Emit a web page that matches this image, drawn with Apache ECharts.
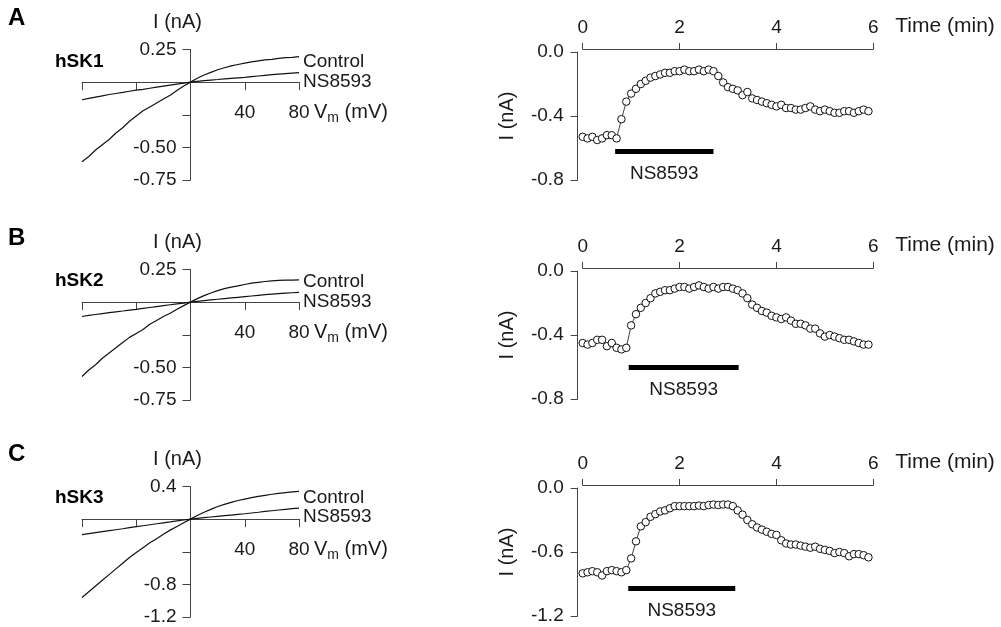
<!DOCTYPE html>
<html><head><meta charset="utf-8">
<script src="https://cdn.jsdelivr.net/npm/echarts@6/dist/echarts.min.js"></script>
<style>html,body{margin:0;padding:0;background:#fff}#c{width:1001px;height:627px}</style>
</head><body><div id="c"></div>
<script>
// ---------- DATA ----------
const panelLetters = ['A', 'B', 'C'];
const channelNames = ['hSK1', 'hSK2', 'hSK3'];
const voltage = [-80,-75,-70,-65,-60,-55,-50,-45,-40,-35,-30,-25,-20,-15,-10,-5,0,5,10,15,20,25,30,35,40,45,50,55,60,65,70,75,80];
const ivControlA = [-0.61,-0.57,-0.52,-0.48,-0.44,-0.39,-0.35,-0.30,-0.26,-0.22,-0.19,-0.16,-0.13,-0.10,-0.065,-0.03,0,0.03,0.055,0.075,0.095,0.11,0.125,0.135,0.145,0.155,0.163,0.17,0.175,0.182,0.187,0.19,0.195];
const ivNS8593A  = [-0.135,-0.125,-0.115,-0.105,-0.095,-0.087,-0.079,-0.07,-0.062,-0.055,-0.047,-0.039,-0.031,-0.023,-0.015,-0.008,0,0.006,0.011,0.016,0.02,0.025,0.029,0.033,0.037,0.042,0.047,0.052,0.057,0.061,0.065,0.069,0.073];
const ivControlB = [-0.57,-0.52,-0.48,-0.43,-0.39,-0.35,-0.31,-0.27,-0.24,-0.21,-0.17,-0.14,-0.11,-0.085,-0.055,-0.027,0,0.027,0.05,0.07,0.088,0.103,0.115,0.125,0.135,0.145,0.152,0.158,0.163,0.166,0.168,0.169,0.17];
const ivNS8593B  = [-0.11,-0.102,-0.095,-0.088,-0.081,-0.074,-0.068,-0.061,-0.055,-0.048,-0.041,-0.034,-0.027,-0.02,-0.013,-0.007,0,0.006,0.012,0.017,0.022,0.027,0.032,0.037,0.042,0.047,0.052,0.057,0.061,0.065,0.069,0.072,0.075];
const ivControlC = [-0.96,-0.89,-0.82,-0.75,-0.68,-0.61,-0.54,-0.47,-0.41,-0.35,-0.29,-0.24,-0.185,-0.135,-0.09,-0.045,0,0.045,0.085,0.12,0.155,0.18,0.205,0.228,0.246,0.263,0.278,0.292,0.305,0.315,0.325,0.333,0.34];
const ivNS8593C  = [-0.19,-0.178,-0.166,-0.154,-0.142,-0.13,-0.118,-0.105,-0.093,-0.081,-0.069,-0.057,-0.045,-0.034,-0.022,-0.011,0,0.009,0.018,0.026,0.034,0.042,0.05,0.058,0.066,0.075,0.084,0.094,0.103,0.112,0.12,0.128,0.135];

const timeMin = [0,0.1,0.2,0.3,0.4,0.5,0.6,0.7,0.8,0.9,1.0,1.1,1.2,1.3,1.4,1.5,1.6,1.7,1.8,1.9,2.0,2.1,2.2,2.3,2.4,2.5,2.6,2.7,2.8,2.9,3.0,3.1,3.2,3.3,3.4,3.5,3.6,3.7,3.8,3.9,4.0,4.1,4.2,4.3,4.4,4.5,4.6,4.7,4.8,4.9,5.0,5.1,5.2,5.3,5.4,5.5,5.6,5.7,5.8,5.9];
const currentA = [-0.53,-0.54,-0.53,-0.55,-0.54,-0.52,-0.52,-0.54,-0.42,-0.31,-0.26,-0.23,-0.20,-0.18,-0.16,-0.15,-0.14,-0.13,-0.13,-0.12,-0.12,-0.11,-0.12,-0.12,-0.11,-0.12,-0.11,-0.12,-0.15,-0.19,-0.22,-0.23,-0.24,-0.27,-0.25,-0.29,-0.30,-0.31,-0.32,-0.33,-0.34,-0.33,-0.35,-0.35,-0.36,-0.36,-0.35,-0.34,-0.36,-0.37,-0.36,-0.37,-0.38,-0.38,-0.37,-0.37,-0.38,-0.37,-0.36,-0.37];
const currentB = [-0.45,-0.46,-0.45,-0.43,-0.43,-0.47,-0.45,-0.48,-0.49,-0.48,-0.34,-0.27,-0.23,-0.20,-0.17,-0.14,-0.13,-0.12,-0.12,-0.11,-0.10,-0.10,-0.11,-0.10,-0.09,-0.10,-0.11,-0.10,-0.11,-0.10,-0.10,-0.11,-0.12,-0.14,-0.17,-0.21,-0.23,-0.25,-0.26,-0.28,-0.29,-0.30,-0.29,-0.31,-0.33,-0.33,-0.34,-0.36,-0.36,-0.39,-0.41,-0.40,-0.41,-0.42,-0.43,-0.43,-0.44,-0.45,-0.46,-0.46];
const currentC = [-0.80,-0.79,-0.78,-0.79,-0.82,-0.78,-0.77,-0.78,-0.79,-0.77,-0.66,-0.50,-0.36,-0.32,-0.27,-0.245,-0.22,-0.21,-0.19,-0.17,-0.17,-0.17,-0.17,-0.17,-0.165,-0.17,-0.16,-0.155,-0.16,-0.155,-0.155,-0.17,-0.21,-0.25,-0.30,-0.34,-0.37,-0.39,-0.41,-0.43,-0.44,-0.49,-0.52,-0.53,-0.53,-0.54,-0.55,-0.56,-0.55,-0.57,-0.58,-0.59,-0.61,-0.60,-0.61,-0.64,-0.62,-0.62,-0.63,-0.65];

const applyStart = [0.67, 0.95, 0.94];
const applyEnd   = [2.70, 3.22, 3.15];
const applyLevel = [-0.62, -0.60, -0.94];

const ivTicksShown = [[0.25,-0.5,-0.75],[0.25,-0.5,-0.75],[0.4,-0.8,-1.2]];
const vTicksShown = [40, 80];
// ---------- LAYOUT / STYLE ----------
const FONT = '"Liberation Sans", Arial, Helvetica, sans-serif';
const TXT = '#1a1a1a';
const AXC = '#444';
const FS = 19;
const ivCtrl = [ivControlA, ivControlB, ivControlC];
const ivNS = [ivNS8593A, ivNS8593B, ivNS8593C];
const cur = [currentA, currentB, currentC];
const ivRange = [{min:-0.75,max:0.25,interval:0.25,dec:2},{min:-0.75,max:0.25,interval:0.25,dec:2},{min:-1.2,max:0.4,interval:0.4,dec:1}];
const tRange = [{min:-0.8,interval:0.4},{min:-0.8,interval:0.4},{min:-1.2,interval:0.6}];
const leftTops = [49.5, 269.5, 486.5];
const rightTops = [52, 271, 488];
const topAxisOffset = 3;
const letterY = [19, 239, 455];
const chanY = [63, 282, 499];
const ctrlOff = [5, 2, 6];
const nsOff = [9, 9, 9];
const IVW = 217, IVH = 130.5;

const grids = [], xAxes = [], yAxes = [], series = [], graphics = [];
const lab = (extra) => Object.assign({color: TXT, fontFamily: FONT, fontSize: FS}, extra || {});

for (let i = 0; i < 3; i++) {
  const r = ivRange[i];
  // IV plot: axes cross at (0,0) -> shift the axes into the grid via offset
  const xZeroFrac = (0 - (-80)) / 160;
  const yZeroFromBottom = (0 - r.min) / (r.max - r.min) * IVH;
  grids.push({left: 82, top: leftTops[i], width: IVW, height: IVH});
  xAxes.push({
    gridIndex: i, type: 'value', min: -80, max: 80, interval: 40,
    offset: -yZeroFromBottom,
    axisLine: {onZero: false, lineStyle: {color: AXC, width: 1}},
    axisTick: {length: 8, lineStyle: {color: AXC}},
    axisLabel: lab({margin: 21, formatter: v => vTicksShown.includes(v) ? String(v) : ''}),
    splitLine: {show: false},
    name: '{v|V}{s|m}{v| (mV)}', nameLocation: 'end', nameGap: 15, nameMoveOverlap: false,
    nameTextStyle: {padding: [60, 0, 0, 0], rich: {
      v: {fontSize: 20, fontFamily: FONT, color: TXT},
      s: {fontSize: 14, fontFamily: FONT, color: TXT, padding: [12, 0, 0, 0]}
    }}
  });
  yAxes.push({
    gridIndex: i, type: 'value', min: r.min, max: r.max, interval: r.interval,
    offset: -xZeroFrac * IVW,
    axisLine: {onZero: false, lineStyle: {color: AXC, width: 1}},
    axisTick: {length: 8, lineStyle: {color: AXC}},
    axisLabel: lab({margin: 14, formatter: v => ivTicksShown[i].some(s => Math.abs(s - v) < 1e-6) ? v.toFixed(r.dec) : ''}),
    splitLine: {show: false},
    name: 'I (nA)', nameLocation: 'end', nameGap: 17, nameMoveOverlap: false,
    nameTextStyle: lab({fontSize: 20, padding: [0, 26, 0, 0]})
  });
  series.push({
    type: 'line', xAxisIndex: i, yAxisIndex: i, showSymbol: false, silent: true,
    data: voltage.map((v, k) => [v, ivCtrl[i][k]]),
    lineStyle: {color: '#111', width: 1.2},
    endLabel: lab({show: true, formatter: 'Control', distance: 4, offset: [0, ctrlOff[i]]})
  });
  series.push({
    type: 'line', xAxisIndex: i, yAxisIndex: i, showSymbol: false, silent: true,
    data: voltage.map((v, k) => [v, ivNS[i][k]]),
    lineStyle: {color: '#111', width: 1.2},
    endLabel: lab({show: true, formatter: 'NS8593', distance: 4, offset: [0, nsOff[i]]})
  });
}
for (let i = 0; i < 3; i++) {
  const g = 3 + i;
  grids.push({left: 582.7, top: rightTops[i], width: 290.6, height: 128});
  xAxes.push({
    gridIndex: g, type: 'value', position: 'top', offset: topAxisOffset, min: 0, max: 6, interval: 2,
    axisLine: {onZero: false, lineStyle: {color: AXC, width: 1}},
    axisTick: {length: 6, lineStyle: {color: AXC}},
    axisLabel: lab({margin: 12}),
    splitLine: {show: false}
  });
  const t = tRange[i];
  yAxes.push({
    gridIndex: g, type: 'value', min: t.min, max: 0, interval: t.interval, offset: 5,
    axisLine: {onZero: false, lineStyle: {color: AXC, width: 1}},
    axisTick: {length: 7, lineStyle: {color: AXC}},
    axisLabel: lab({margin: 14, formatter: v => v.toFixed(1)}),
    splitLine: {show: false},
    name: 'I (nA)', nameLocation: 'middle', nameGap: 60, nameMoveOverlap: false,
    nameTextStyle: lab({fontSize: 20})
  });
  series.push({
    type: 'line', xAxisIndex: g, yAxisIndex: g, silent: true,
    data: timeMin.map((tt, k) => [tt, cur[i][k]]),
    symbol: 'circle', symbolSize: 7.5,
    itemStyle: {color: '#fff', borderColor: '#111', borderWidth: 1},
    lineStyle: {color: '#111', width: 0.8},
    markLine: {
      silent: true, symbol: ['none', 'none'],
      lineStyle: {color: '#000', width: 5, type: 'solid'},
      label: lab({show: true, position: 'insideMiddleBottom', formatter: 'NS8593', distance: 13}),
      data: [[{coord: [applyStart[i], applyLevel[i]]}, {coord: [applyEnd[i], applyLevel[i]]}]]
    }
  });
  graphics.push({type: 'text', left: 8, top: letterY[i] - 13,
    style: {text: panelLetters[i], font: 'bold 24px ' + FONT, fill: '#000'}});
  graphics.push({type: 'text', left: 55, top: chanY[i] - 11,
    style: {text: channelNames[i], font: 'bold 19px ' + FONT, fill: '#000'}});
}

const chart = echarts.init(document.getElementById('c'));
chart.setOption({
  backgroundColor: '#fff',
  animation: false,
  grid: grids.map(g => Object.assign({outerBoundsMode: 'none'}, g)),
  xAxis: xAxes, yAxis: yAxes, series: series, graphic: graphics
});
// "Time (min)" axis titles, placed next to the last tick of each top time axis
for (let i = 0; i < 3; i++) {
  const g = 3 + i;
  const xEnd = chart.convertToPixel({xAxisIndex: g}, 6);
  graphics.push({type: 'text', x: xEnd + 22, y: rightTops[i] - topAxisOffset - 23,
    style: {text: 'Time (min)', font: '21px ' + FONT, fill: TXT, verticalAlign: 'middle', align: 'left'}});
}
chart.setOption({graphic: graphics});
</script></body></html>
